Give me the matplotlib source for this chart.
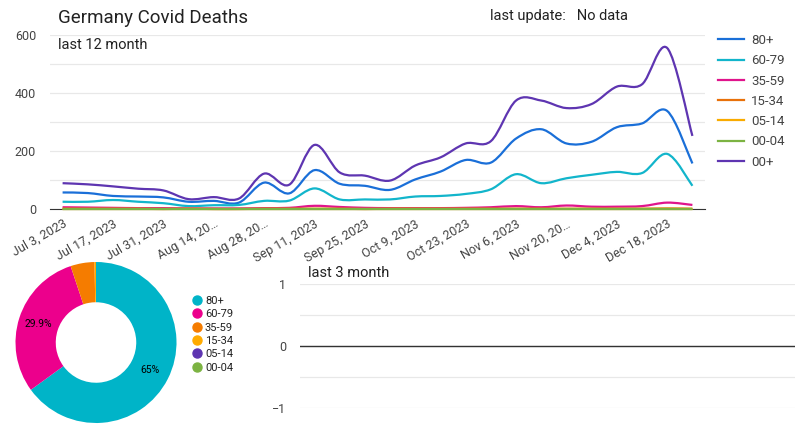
import numpy as np
import matplotlib
matplotlib.use("Agg")
import matplotlib.pyplot as plt
from matplotlib.path import Path
from matplotlib.patches import PathPatch
from matplotlib.lines import Line2D

plt.rcParams["font.family"] = ["Roboto", "DejaVu Sans"]

# weekly values, Jul 3 2023 .. Dec 25 2023
weeks = ["Jul 3, 2023", "Jul 10, 2023", "Jul 17, 2023", "Jul 24, 2023", "Jul 31, 2023",
         "Aug 7, 2023", "Aug 14, 2023", "Aug 21, 2023", "Aug 28, 2023", "Sep 4, 2023",
         "Sep 11, 2023", "Sep 18, 2023", "Sep 25, 2023", "Oct 2, 2023", "Oct 9, 2023",
         "Oct 16, 2023", "Oct 23, 2023", "Oct 30, 2023", "Nov 6, 2023", "Nov 13, 2023",
         "Nov 20, 2023", "Nov 27, 2023", "Dec 4, 2023", "Dec 11, 2023", "Dec 18, 2023",
         "Dec 25, 2023"]
tick_labels = ["Jul 3, 2023", "Jul 17, 2023", "Jul 31, 2023", "Aug 14, 20…", "Aug 28, 20…",
               "Sep 11, 2023", "Sep 25, 2023", "Oct 9, 2023", "Oct 23, 2023", "Nov 6, 2023",
               "Nov 20, 20…", "Dec 4, 2023", "Dec 18, 2023"]

age_80 = [57, 55, 45, 43, 40, 25, 28, 22, 91, 54, 134, 87, 80, 66, 102, 129, 169, 160,
          243, 275, 226, 232, 282, 295, 338, 157]
age_60_79 = [25, 25, 31, 25, 20, 10, 13, 14, 28, 29, 71, 33, 33, 33, 43, 45, 52, 68,
             120, 89, 106, 118, 128, 124, 190, 80]
age_35_59 = [6, 5, 4, 3, 3, 2, 2, 2, 3, 4, 11, 7, 4, 3, 3, 3, 4, 6,
             10, 6, 12, 8, 8, 10, 22, 14]
age_15_34 = [1, 1, 1, 1, 0, 1, 0, 0, 1, 1, 1, 1, 0, 1, 1, 1, 1, 1,
             1, 1, 1, 1, 1, 1, 2, 1]
age_05_14 = [0] * 26
age_00_04 = [0] * 26
age_all = [89, 85, 78, 70, 64, 34, 41, 36, 122, 84, 221, 126, 115, 98, 150, 178, 226, 234,
           374, 374, 348, 362, 422, 430, 555, 252]

series_names = ["80+", "60-79", "35-59", "15-34", "05-14", "00-04", "00+"]
series_values = [age_80, age_60_79, age_35_59, age_15_34, age_05_14, age_00_04, age_all]
line_colors = ["#1a6fd8", "#12b5cb", "#e0148c", "#e8710a", "#f9ab00", "#7cb342", "#5e35b1"]

# donut (share in %)
pie_labels = ["80+", "60-79", "35-59", "15-34", "05-14", "00-04"]
pie_share = [65.0, 29.9, 4.8, 0.3, 0.0, 0.0]
pie_colors = ["#00b4c8", "#ec008c", "#f57c00", "#ffab00", "#5e35b1", "#7cb342"]

TEXT = "#222222"
TICK = "#444444"
GRID = "#e8e8e8"


def smooth_path(x, y):
    """Catmull-Rom curve through the points, as bezier segments."""
    pts = np.column_stack([x, y]).astype(float)
    n = len(pts)
    verts = [pts[0]]
    codes = [Path.MOVETO]
    for i in range(n - 1):
        p0 = pts[max(i - 1, 0)]
        p1 = pts[i]
        p2 = pts[i + 1]
        p3 = pts[min(i + 2, n - 1)]
        verts += [p1 + (p2 - p0) / 6, p2 - (p3 - p1) / 6, p2]
        codes += [Path.CURVE4] * 3
    return Path(verts, codes)


fig = plt.figure(figsize=(8, 4.4), dpi=100)

# ---- top line chart
ax = fig.add_axes([50 / 800, 1 - 209 / 440, 655 / 800, 174 / 440])
x = np.arange(len(weeks))
for name, vals, col in zip(series_names, series_values, line_colors):
    ax.add_patch(PathPatch(smooth_path(x, vals), facecolor="none", edgecolor=col,
                           lw=1.6, clip_on=False, zorder=3))
ax.set_xlim(-0.5, len(weeks) - 0.5)
ax.set_ylim(0, 600)
ax.set_yticks([0, 200, 400, 600])
ax.set_yticks([100, 300, 500], minor=True)
ax.grid(axis="y", which="both", color=GRID, lw=0.9)
ax.set_axisbelow(True)
ax.set_xticks(x[::2])
ax.set_xticklabels(tick_labels, rotation=30, ha="right", rotation_mode="anchor")
ax.tick_params(axis="x", length=0, pad=6, labelsize=9, labelcolor=TICK)
ax.tick_params(axis="y", which="both", length=0, pad=10, labelsize=9, labelcolor=TICK)
for s in ["top", "right", "left"]:
    ax.spines[s].set_visible(False)
ax.spines["bottom"].set_color("#333333")

handles = [Line2D([], [], color=c, lw=1.6) for c in line_colors]
fig.legend(handles, series_names, loc="upper left", bbox_to_anchor=(718 / 800, 1 - 34 / 440),
           frameon=False, fontsize=9.5, handlelength=2.0, handletextpad=0.5,
           labelspacing=0.55, borderpad=0, borderaxespad=0, labelcolor=TICK)

fig.text(58 / 800, 1 - 18 / 440, "Germany Covid Deaths", fontsize=13.5, color=TEXT, va="center")
fig.text(58 / 800, 1 - 45 / 440, "last 12 month", fontsize=10.5, color=TEXT, va="center")
fig.text(490 / 800, 1 - 16 / 440, "last update:   No data", fontsize=10.5, color=TEXT, va="center")

# ---- donut
axp = fig.add_axes([15.5 / 800, 1 - 423 / 440, 161 / 800, 161 / 440])
nz = [(v, c) for v, c in zip(pie_share, pie_colors) if v > 0]
axp.pie([v for v, _ in nz], colors=[c for _, c in nz], startangle=90, counterclock=False,
        radius=1, wedgeprops=dict(width=0.5, linewidth=0),
        autopct=lambda p: f"{round(p, 1):g}%" if p > 10 else "",
        pctdistance=0.75, textprops=dict(fontsize=7.5, color="black"))
axp.set_xlim(-1, 1)
axp.set_ylim(-1, 1)
axp.set_aspect("equal")

pie_handles = [Line2D([], [], ls="none", marker="o", markersize=6.5, color=c) for c in pie_colors]
fig.legend(pie_handles, pie_labels, loc="upper left", bbox_to_anchor=(191 / 800, 1 - 296 / 440),
           frameon=False, fontsize=8, handlelength=1.0, handletextpad=0.25,
           labelspacing=0.3, borderpad=0, borderaxespad=0, labelcolor=TEXT)

# ---- last 3 month (empty)
ax3 = fig.add_axes([300 / 800, 1 - 408 / 440, 495 / 800, 124 / 440])
ax3.set_xlim(0, 1)
ax3.set_ylim(-1, 1)
ax3.set_yticks([-1, 0, 1])
ax3.set_yticks([-0.5, 0.5], minor=True)
ax3.set_xticks([])
ax3.grid(axis="y", which="both", color=GRID, lw=0.9)
ax3.axhline(0, color="#333333", lw=1.0)
ax3.tick_params(axis="y", which="both", length=0, pad=10, labelsize=9, labelcolor=TICK)
for s in ax3.spines.values():
    s.set_visible(False)
fig.text(308 / 800, 1 - 273 / 440, "last 3 month", fontsize=10.5, color=TEXT, va="center")

fig.savefig("out.png", dpi=100)
